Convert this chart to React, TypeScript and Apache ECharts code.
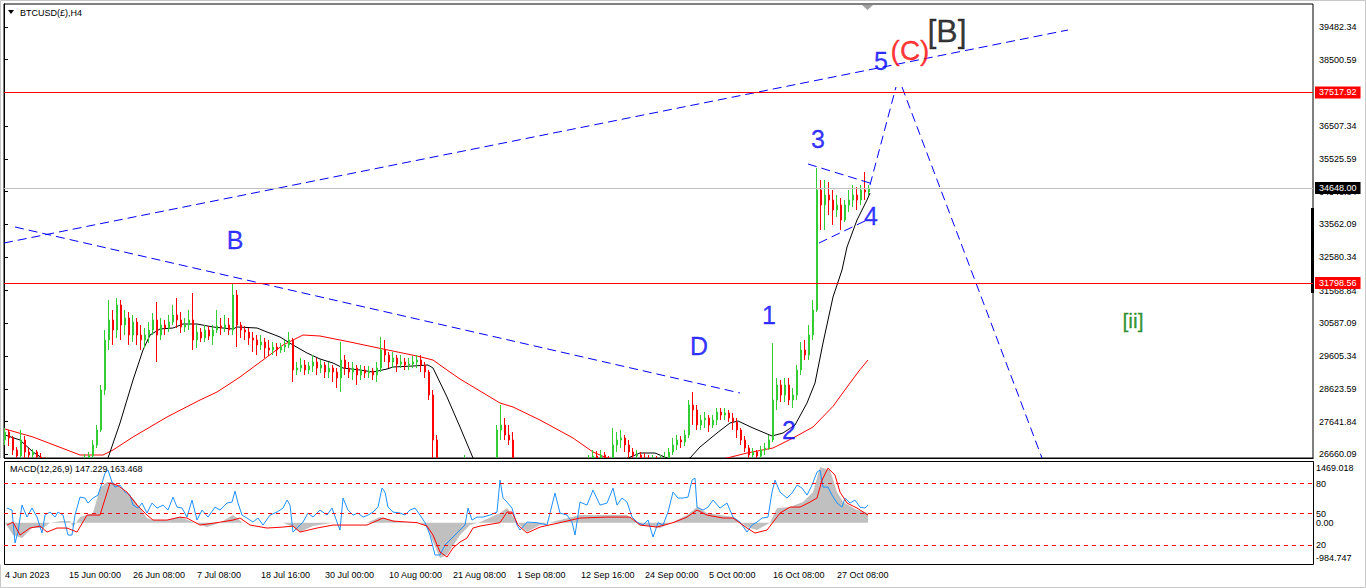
import React, { useEffect, useRef } from 'react';
import * as echarts from 'echarts';

const FONT = '"Liberation Sans", Arial, sans-serif';

// ---------- price pane data (one candle per 4 H4 bars) ----------
const candleStart = 1;
const candleStep = 4;
// [open, close, low, high]
const candles: number[][] = [
  [27090,27330,26940,27450],[27330,27150,26910,27390],[27150,26790,26640,27210],[26790,26610,26490,26880],
  [26610,27090,26550,27390],[27090,26730,26550,27210],[26730,26640,26490,26850],[26640,26730,26490,26820],
  [26730,26580,26430,26790],[26580,26490,26340,26700],[26490,26310,26190,26580],[26310,26190,26070,26430],
  [26190,26250,26040,26370],[26250,26130,25980,26340],[26130,26220,26010,26310],[26220,26160,26010,26340],
  [26160,26250,26040,26370],[26250,26190,26070,26340],[26190,26280,26100,26400],[26280,26430,26190,26550],
  [26430,26550,26310,26670],[26550,26610,26430,26730],[26610,26940,26490,27090],[26940,27390,26850,27540],
  [27390,28590,27330,28740],[28590,30090,28440,30390],[30090,30690,29790,31290],[30690,30390,29940,30990],
  [30390,31140,30150,31350],[31140,30540,30090,31290],[30540,30750,30240,30990],[30750,30240,29940,30930],
  [30240,30630,30030,30840],[30630,30240,29940,30750],[30240,30090,29790,30540],[30090,30240,29850,30450],
  [30240,30390,30000,30630],[30390,30690,30240,30900],[30690,30240,29430,31230],[30240,30540,30090,30750],
  [30540,30450,30240,30690],[30450,30630,30330,30840],[30630,30840,30540,31140],[30840,30690,30450,31350],
  [30690,30480,30300,30930],[30480,30540,30330,30750],[30540,30690,30390,30990],[30690,30090,29790,31500],
  [30090,30330,29850,30540],[30330,30150,30030,30450],[30150,30390,30030,30540],[30390,30210,30090,30510],
  [30210,30390,29940,30540],[30390,30510,30300,30990],[30510,30450,30240,30750],[30450,30540,30330,30840],
  [30540,30390,30240,30750],[30390,31440,30240,31800],[31440,30540,29880,31590],[30540,30390,30150,30630],
  [30390,30330,30090,30510],[30330,30150,29940,30450],[30150,30090,29730,30330],[30090,29940,29640,30240],
  [29940,30030,29790,30240],[30030,29850,29550,30150],[29850,29790,29610,30090],[29790,29880,29640,30030],
  [29880,29790,29610,30000],[29790,29880,29700,30000],[29880,29940,29730,30090],[29940,30090,29850,30330],
  [30090,29190,28830,30150],[29190,29250,29040,29430],[29250,29340,29130,29550],[29340,29190,29040,29490],
  [29190,29310,29070,29430],[29310,29430,29130,29640],[29430,29250,29040,29550],[29250,29340,29100,29490],
  [29340,29130,28950,29430],[29130,29250,28950,29430],[29250,29130,28830,29340],[29130,28950,28650,29250],
  [28950,29490,28530,30030],[29490,29250,29040,29640],[29250,29130,28950,29430],[29130,29250,28890,29430],
  [29250,29040,28740,29340],[29040,29190,28890,29340],[29190,29100,28950,29310],[29100,29160,28950,29310],
  [29160,29040,28890,29250],[29040,29250,28830,29430],[29250,29790,29130,30180],[29790,29640,29430,30090],
  [29640,29430,29250,29730],[29430,29550,29250,29730],[29550,29370,29130,29640],[29370,29430,29250,29640],
  [29430,29340,29190,29550],[29340,29370,29190,29550],[29370,29430,29250,29610],[29430,29490,29250,29640],
  [29490,29340,29130,29640],[29340,29130,28950,29430],[29130,28440,28290,29190],[28440,27090,26490,28590],
  [27090,25890,25590,27240],[25890,25740,25440,26040],[25740,25950,25530,26130],[25950,25830,25650,26070],
  [25830,26040,25710,26190],[26040,25950,25770,26190],[25950,26130,25830,26310],[26130,26190,25950,26640],
  [26190,26070,25890,26310],[26070,26160,25950,26310],[26160,26070,25890,26280],[26070,26130,25950,26280],
  [26130,26040,25890,26250],[26040,26190,25950,26340],[26190,26250,26040,26430],[26250,27390,26190,27540],
  [27390,27540,27090,28140],[27540,27240,27090,27750],[27240,27090,26940,27540],[27090,26040,25890,27330],
  [26040,25950,25740,26190],[25950,26010,25770,26190],[26010,25890,25710,26130],[25890,25980,25740,26130],
  [25980,25920,25770,26100],[25920,26010,25800,26160],[26010,25950,25770,26130],[25950,26070,25830,26220],
  [26070,26010,25860,26190],[26010,26130,25890,26310],[26130,26070,25920,26250],[26070,26160,25950,26340],
  [26160,26100,25950,26280],[26100,26190,25980,26370],[26190,26130,26010,26310],[26130,26220,26010,26370],
  [26220,26310,26070,26490],[26310,26370,26190,26550],[26370,26490,26250,26640],[26490,26610,26370,26790],
  [26610,26550,26400,26760],[26550,26640,26430,26790],[26640,26490,26310,26730],[26490,26430,26250,26610],
  [26430,26940,26370,27450],[26940,27090,26730,27330],[27090,27150,26850,27390],[27150,26940,26730,27240],
  [26940,26730,26550,27090],[26730,26610,26490,26850],[26610,26640,26490,26790],[26640,26550,26430,26730],
  [26550,26490,26340,26700],[26490,26430,26310,26640],[26430,26490,26310,26640],[26490,26430,26280,26610],
  [26430,26490,26310,26640],[26490,26550,26370,26730],[26550,26730,26490,26850],[26730,26940,26640,27150],
  [26940,27090,26790,27240],[27090,27030,26850,27210],[27030,27240,26910,27390],[27240,28140,27150,28290],
  [28140,27990,27540,28530],[27990,27540,27390,28140],[27540,27690,27390,27840],[27690,27750,27450,27930],
  [27750,27540,27330,27840],[27540,27690,27450,27840],[27690,27930,27540,28050],[27930,27840,27690,28050],
  [27840,27900,27690,28050],[27900,27750,27630,27990],[27750,27630,27390,27900],[27630,27390,27150,27750],
  [27390,27090,26940,27450],[27090,26850,26730,27210],[26850,26640,26430,26940],[26640,26730,26490,26850],
  [26730,26610,26490,26790],[26610,26790,26550,26910],[26790,26850,26640,27000],[26850,27090,26790,27240],
  [27090,28290,27030,30000],[28290,28740,27990,28950],[28740,28440,28230,28890],[28440,28740,28230,28950],
  [28740,28290,28140,28950],[28290,28440,28050,28650],[28440,29190,28290,29340],[29190,29790,29040,30030],
  [29790,29640,29490,30090],[29640,30240,29490,30540],[30240,30990,30090,31290],[30990,34590,30930,35250],
  [34590,34140,33390,34890],[34140,34440,33390,34890],[34440,34290,33840,34830],[34290,33990,33540,34590],
  [33990,34140,33780,34440],[34140,33690,33390,34350],[33690,34140,33630,34290],[34140,34290,33930,34590],
  [34290,34440,34080,34740],[34440,34290,33990,34680],[34290,34590,34140,34740],[34590,34530,34290,35130],
  [34530,34650,34440,34740],
];

// moving averages: [bar index, price]
const maFast: number[][] = [
  [1,27240],[16,27090],[29,26730],[41,26490],[66,26040],[91,25950],[104,26550],[116,27600],[129,28890],
  [139,29790],[146,30240],[156,30420],[169,30450],[179,30570],[193,30570],[209,30480],[229,30420],[233,30480],
  [253,30450],[263,30330],[276,30180],[289,29940],[303,29700],[316,29520],[329,29400],[339,29250],[356,29190],
  [369,29130],[383,29220],[389,29280],[409,29310],[424,29340],[429,29250],[443,28380],[456,27480],[469,26550],
  [496,25890],[546,25950],[596,26250],[624,26550],[636,26700],[651,26700],[663,26550],[676,26430],[686,26550],
  [696,26880],[713,27300],[726,27600],[734,27660],[749,27450],[768,27210],[779,27300],[791,27540],[803,28200],
  [811,28800],[819,30000],[829,31380],[838,32190],[843,32880],[853,33690],[863,34290],[866,34500],
];
const maSlow: number[][] = [
  [1,27420],[29,27180],[63,26790],[76,26640],[99,26640],[109,26790],[129,27180],[163,27780],[196,28290],
  [213,28530],[236,28980],[259,29490],[279,29940],[299,30240],[316,30210],[346,30030],[379,29820],[413,29610],
  [429,29490],[443,29190],[456,28920],[496,28200],[509,28080],[536,27690],[569,27150],[589,26730],[603,26550],
  [636,26190],[676,26250],[723,26550],[743,26700],[769,26850],[789,27150],[809,27480],[829,28100],[846,28800],
  [856,29200],[864,29490],
];

// horizontal levels
const redLevels = [37517.92, 31798.56];
const bidLevel = 34648.0;

// wave trend lines: [bar index, price] end points
const upperChannel = [[0, 33000], [1064, 39390]];
const bdLine = [[11, 33480], [736, 28500]];
const triUpper = [[804, 35370], [869, 34770]];
const triLower = [[815, 33000], [863, 33690]];
const projUp = [[866, 34740], [892, 37680]];
const projDown = [[898, 37680], [1038, 26550]];

// wave labels
const waveTexts = ['B', 'D', '1', '2', '3', '4', '5', '(C)', '[B]', '[ii]'];
const waveBars = [231, 695, 765, 785, 814, 867, 877, 906, 943, 1129];
const wavePrices = [33090, 29910, 30840, 27390, 36120, 33810, 38460, 38790, 39360, 30690];

// axes
const priceTicks = [39482.34, 38500.59, 36507.34, 35525.59, 34543.84, 33562.09, 32580.34, 31568.84,
  30587.09, 29605.34, 28623.59, 27641.84, 26660.09];
const timeLabels = ['4 Jun 2023', '15 Jun 00:00', '26 Jun 08:00', '7 Jul 08:00', '18 Jul 16:00', '30 Jul 00:00',
  '10 Aug 00:00', '21 Aug 08:00', '1 Sep 08:00', '12 Sep 16:00', '24 Sep 00:00', '5 Oct 00:00', '16 Oct 08:00',
  '27 Oct 08:00'];
const timeLabelBars = [1, 65, 129, 193, 257, 321, 385, 449, 513, 577, 641, 705, 769, 833];

// ---------- MACD pane ----------
const macdMain: number[][] = [
  [3,348],[8,300],[11,-485],[14,-224],[18,419],[23,133],[28,348],[33,133],[38,-247],[41,181],[46,252],[51,133],
  [54,252],[59,181],[64,-295],[68,-295],[71,181],[76,609],[81,586],[84,467],[89,586],[94,657],[98,943],[101,1181],
  [104,1252],[108,967],[111,847],[116,895],[121,728],[126,657],[129,419],[134,348],[138,467],[143,229],[148,467],
  [153,348],[159,419],[164,300],[169,609],[173,371],[178,348],[183,133],[188,538],[193,62],[198,300],[204,133],
  [211,371],[216,300],[223,467],[228,490],[231,752],[234,467],[238,181],[243,110],[249,14],[254,110],[259,-57],
  [266,181],[273,252],[279,348],[283,538],[286,419],[289,-224],[294,-105],[299,14],[304,229],[309,133],[316,300],
  [323,181],[328,348],[333,14],[336,-176],[339,586],[344,300],[349,181],[354,229],[359,133],[364,181],[369,252],
  [374,371],[378,824],[381,728],[384,371],[389,252],[396,229],[401,181],[406,300],[411,348],[416,181],[421,0],
  [426,-295],[431,-771],[436,-771],[441,-533],[448,-366],[454,-224],[461,-57],[464,348],[468,62],[473,133],
  [479,133],[486,181],[493,252],[496,1014],[499,586],[503,490],[508,348],[513,-57],[516,-176],[523,14],[533,0],
  [543,-57],[551,705],[556,229],[563,181],[568,14],[571,-295],[576,490],[583,419],[589,776],[596,419],[603,467],
  [609,824],[613,419],[618,586],[623,490],[628,133],[633,14],[639,-57],[644,62],[649,-343],[654,0],[659,-57],
  [664,252],[669,728],[674,586],[679,586],[684,609],[688,1014],[691,1062],[693,371],[699,300],[704,371],[709,538],
  [716,348],[723,467],[729,133],[736,14],[743,-224],[748,-57],[753,14],[758,110],[764,133],[768,728],[771,1014],
  [776,728],[783,586],[788,705],[793,895],[798,824],[803,657],[808,895],[813,1204],[816,1252],[819,847],[824,847],
  [828,657],[833,467],[838,371],[841,586],[846,467],[851,538],[856,371],[861,348],[864,419],
];
const macdSignal: number[][] = [
  [3,-57],[9,14],[16,-295],[26,-128],[36,-81],[43,-224],[53,-128],[63,-128],[73,-224],[83,181],[96,181],
  [106,943],[113,895],[123,728],[133,419],[143,181],[149,62],[163,62],[176,133],[183,110],[196,-57],[213,0],
  [229,62],[236,110],[246,-57],[263,-128],[279,-105],[289,-81],[296,-224],[313,-128],[329,-57],[346,-57],
  [363,-57],[379,110],[389,38],[413,0],[423,-81],[429,-295],[436,-700],[443,-819],[449,-604],[456,-462],
  [463,-366],[469,-128],[476,-81],[496,0],[503,252],[508,252],[514,-57],[523,-247],[536,-105],[556,0],[576,110],
  [603,133],[626,133],[636,-57],[653,-105],[669,0],[683,133],[693,300],[703,181],[719,110],[729,110],[743,-128],
  [751,-247],[763,-176],[776,229],[786,371],[796,371],[806,490],[813,586],[818,1014],[824,1300],[831,1133],
  [836,728],[843,467],[853,348],[864,181],
];
const macdHist: number[][] = [
  [1,0],[9,-295],[18,-366],[28,-128],[39,-128],[46,0],[58,38],[66,38],[69,-105],[76,133],[89,229],[96,824],
  [103,967],[109,967],[116,824],[129,586],[143,110],[149,62],[163,62],[176,133],[189,14],[203,-105],[216,0],
  [229,181],[239,0],[256,0],[279,0],[289,-105],[296,-224],[309,-81],[329,0],[363,0],[376,133],[396,14],[416,0],
  [423,-105],[429,-462],[436,-842],[443,-771],[456,-295],[466,-57],[476,14],[496,229],[503,348],[513,14],
  [523,-224],[536,-57],[556,62],[576,181],[623,181],[636,-57],[656,-128],[669,14],[683,181],[693,371],[703,229],
  [729,133],[743,-105],[753,-176],[766,0],[773,348],[786,371],[799,490],[809,728],[816,1323],[826,1252],
  [833,728],[839,490],[853,300],[864,229],
];
const macdLevels = [933, 218, -544];
const macdAxisTicks = [1300, 933, 218, 0, -544, -842];
const macdAxisTexts = ['1469.018', '80', '50', '0.00', '20', '-984.747'];

const BAR_SLOTS = 1309;

function lookup(values: number[], texts: string[]) {
  return (v: number) => {
    const i = values.findIndex((t) => Math.abs(t - v) < 1e-6);
    return i >= 0 ? texts[i] : '';
  };
}

function trend(id: string, pts: number[][]) {
  return {
    id, type: 'line', xAxisIndex: 0, yAxisIndex: 0, data: pts, showSymbol: false, symbol: 'none',
    lineStyle: { color: '#0000ff', width: 1, type: [9, 5] }, silent: true, z: 4,
  };
}

export default function App() {
  const ref = useRef<HTMLDivElement>(null);
  useEffect(() => {
    const chart = echarts.init(ref.current!, null, { renderer: 'svg' });
    const waveColors = ['#0000ff', '#0000ff', '#0000ff', '#0000ff', '#0000ff', '#0000ff', '#0000ff', '#ff0000', '#000000', '#007a00'];
    const waveSizes = [25, 25, 25, 25, 25, 25, 25, 28, 32, 21];
    const redLine = { color: '#ff0000', type: 'solid', width: 1, opacity: 1 };
    const levelSeries = macdLevels.map((v, i) => ({
      id: 'level' + i, type: 'line', xAxisIndex: 1, yAxisIndex: 1, data: [[0, v], [BAR_SLOTS, v]],
      showSymbol: false, symbol: 'none', silent: true, z: 14,
      lineStyle: { color: '#ff0000', width: 1, type: [4, 4] },
    }));
    const option: any = {
      animation: false,
      backgroundColor: '#ffffff',
      textStyle: { fontFamily: FONT },
      grid: [
        { left: 4, top: 4, width: 1309, height: 454, show: true, borderColor: '#000', borderWidth: 1, backgroundColor: '#fff' },
        { left: 4, top: 461, width: 1309, height: 103, show: true, borderColor: '#000', borderWidth: 1, backgroundColor: '#fff' },
      ],
      xAxis: [
        { type: 'value', gridIndex: 0, min: 0, max: BAR_SLOTS, show: false },
        {
          type: 'value', gridIndex: 1, min: 0, max: BAR_SLOTS, position: 'bottom',
          axisLine: { show: false }, splitLine: { show: false },
          axisTick: { show: true, customValues: timeLabelBars, length: 4, lineStyle: { color: '#000' } },
          axisLabel: {
            customValues: timeLabelBars, formatter: lookup(timeLabelBars, timeLabels), align: 'left',
            margin: 6, fontSize: 9, color: '#000', fontFamily: FONT,
          },
        },
      ],
      yAxis: [
        {
          type: 'value', gridIndex: 0, position: 'right', min: 26550, max: 40170,
          axisLine: { show: true, lineStyle: { color: '#000' } }, splitLine: { show: false },
          axisTick: { show: true, customValues: priceTicks, length: 4, lineStyle: { color: '#000' } },
          axisLabel: {
            customValues: priceTicks, formatter: (v: number) => v.toFixed(2), margin: 6,
            fontSize: 9, color: '#000', fontFamily: FONT,
          },
        },
        {
          type: 'value', gridIndex: 1, position: 'right', min: -984.747, max: 1469.018,
          axisLine: { show: true, lineStyle: { color: '#000' } }, splitLine: { show: false },
          axisTick: { show: true, customValues: macdAxisTicks, length: 3, lineStyle: { color: '#000' } },
          axisLabel: {
            customValues: macdAxisTicks, formatter: lookup(macdAxisTicks, macdAxisTexts), margin: 3,
            fontSize: 9, color: '#000', fontFamily: FONT,
          },
        },
      ],
      series: [
        {
          id: 'levels', type: 'line', xAxisIndex: 0, yAxisIndex: 0, data: [], silent: true, z: 1,
          color: '#ff0000',
          markLine: {
            silent: true, symbol: 'none', precision: 2, z: 5,
            lineStyle: redLine,
            label: {
              show: true, position: 'end', distance: 2, fontSize: 9, fontFamily: FONT, color: '#fff',
              padding: [2, 4, 1, 4], formatter: (p: any) => Number(p.value).toFixed(2),
            },
            data: [
              ...redLevels.map((v) => ({ yAxis: v, lineStyle: redLine, label: { backgroundColor: '#ff0000' } })),
              { yAxis: bidLevel, lineStyle: { color: '#c0c0c0', type: 'solid', width: 1 }, label: { backgroundColor: '#000000' } },
            ],
          },
        },
        {
          id: 'maSlow', type: 'line', xAxisIndex: 0, yAxisIndex: 0, data: maSlow, showSymbol: false, symbol: 'none',
          lineStyle: { color: '#ff0000', width: 1 }, silent: true, z: 2,
        },
        {
          id: 'maFast', type: 'line', xAxisIndex: 0, yAxisIndex: 0, data: maFast, showSymbol: false, symbol: 'none',
          lineStyle: { color: '#000000', width: 1 }, silent: true, z: 2,
        },
        {
          id: 'candles', type: 'candlestick', xAxisIndex: 0, yAxisIndex: 0, barWidth: 2, clip: true, z: 3,
          encode: { x: 0, y: [1, 2, 3, 4] },
          data: candles.map((c, i) => [candleStart + i * candleStep, c[0], c[1], c[2], c[3]]),
          itemStyle: { color: '#32cd32', color0: '#ff0000', borderColor: '#32cd32', borderColor0: '#ff0000', borderWidth: 1 },
        },
        trend('upperChannel', upperChannel),
        trend('bdLine', bdLine),
        trend('triUpper', triUpper),
        trend('triLower', triLower),
        trend('projUp', projUp),
        trend('projDown', projDown),
        {
          id: 'waves', type: 'scatter', xAxisIndex: 0, yAxisIndex: 0, symbolSize: 1, silent: true, z: 6,
          itemStyle: { color: 'rgba(0,0,0,0)' },
          data: waveTexts.map((t, i) => ({
            value: [waveBars[i], wavePrices[i]],
            label: {
              show: true, position: 'inside', formatter: t, color: waveColors[i], fontSize: waveSizes[i],
              fontFamily: FONT, textBorderColor: waveColors[i], textBorderWidth: 0.3,
            },
          })),
        },
        {
          id: 'hist', type: 'line', xAxisIndex: 1, yAxisIndex: 1, data: macdHist, showSymbol: false, symbol: 'none',
          lineStyle: { width: 0, opacity: 0 }, areaStyle: { color: '#c0c0c0', opacity: 1, origin: 0 }, silent: true, z: 11,
        },
        {
          id: 'macd', type: 'line', xAxisIndex: 1, yAxisIndex: 1, data: macdMain, showSymbol: false, symbol: 'none',
          lineStyle: { color: '#1e90ff', width: 1 }, silent: true, z: 12,
        },
        {
          id: 'signal', type: 'line', xAxisIndex: 1, yAxisIndex: 1, data: macdSignal, showSymbol: false, symbol: 'none',
          lineStyle: { color: '#ff0000', width: 1 }, silent: true, z: 13,
        },
        ...levelSeries,
      ],
      graphic: [
        { type: 'rect', shape: { x: 0.5, y: 0.5, width: 1365, height: 587 }, style: { fill: 'none', stroke: '#c8c8c8', lineWidth: 1 }, silent: true },
        // MACD sub-window panel, drawn over the price pane's overflow
        { type: 'rect', z: 10, shape: { x: 0, y: 458.5, width: 1313.5, height: 106 }, style: { fill: '#ffffff' }, silent: true },
        { type: 'line', z: 10, shape: { x1: 4, y1: 458.5, x2: 1313.5, y2: 458.5 }, style: { stroke: '#000', lineWidth: 1 }, silent: true },
        { type: 'rect', z: 10, shape: { x: 4.5, y: 461.5, width: 1309, height: 103 }, style: { fill: 'none', stroke: '#000', lineWidth: 1 }, silent: true },
        { type: 'polygon', shape: { points: [[8, 10], [14, 10], [11, 14]] }, style: { fill: '#000' }, silent: true },
        { type: 'text', x: 20, y: 8, style: { text: 'BTCUSD(£),H4', fontSize: 9, fontFamily: FONT, fill: '#000' }, silent: true },
        { type: 'text', z: 15, x: 10, y: 464, style: { text: 'MACD(12,26,9) 147.229 163.468', fontSize: 9, fontFamily: FONT, fill: '#000' }, silent: true },
        { type: 'polygon', shape: { points: [[862, 5], [873, 5], [867.5, 10]] }, style: { fill: '#a0a0a0' }, silent: true },
        { type: 'rect', shape: { x: 1311, y: 208, width: 3, height: 85 }, style: { fill: '#000' }, silent: true },
      ],
    };
    chart.setOption(option);
    return () => chart.dispose();
  }, []);
  return <div ref={ref} style={{ position: 'fixed', left: 0, top: 0, width: 1366, height: 588, background: '#fff' }} />;
}
